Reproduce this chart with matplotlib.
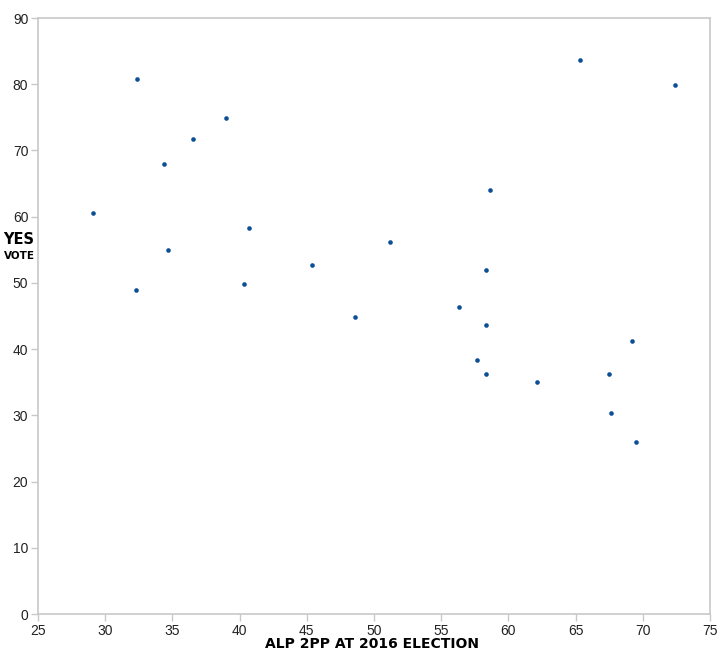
import matplotlib.pyplot as plt

alp_2pp = [29.1, 32.4, 32.3, 34.4, 34.7, 36.5, 39.0, 40.7, 40.3, 45.4,
           48.6, 51.2, 56.3, 58.6, 58.3, 58.3, 57.7, 58.3, 62.1, 65.3,
           69.2, 67.5, 67.6, 69.5, 72.4]
yes_vote = [60.6, 80.8, 49.0, 68.0, 55.0, 71.7, 74.9, 58.3, 49.8, 52.7,
            44.9, 56.2, 46.3, 64.1, 52.0, 43.6, 38.4, 36.2, 35.0, 83.6,
            41.3, 36.3, 30.4, 26.0, 79.9]

plt.rcParams["font.family"] = ["Liberation Sans", "DejaVu Sans"]

fig = plt.figure(figsize=(7.21, 6.5), dpi=100)
ax = fig.add_axes([38 / 721, 1 - 614 / 650, 672 / 721, 596 / 650])

ax.scatter(alp_2pp, yes_vote, s=11, color="#0b4f96", linewidths=0, zorder=3)

ax.set_xlim(25, 75)
ax.set_ylim(0, 90)
ax.set_xticks(range(25, 76, 5))
ax.set_yticks(range(0, 91, 10))

for side in ["left", "bottom", "top", "right"]:
    ax.spines[side].set_color("#c8c8c8")
    ax.spines[side].set_linewidth(1.2)
ax.tick_params(colors="#c8c8c8", labelcolor="#222222", length=5, width=1,
               labelsize=10, pad=2)

fig.text(372 / 721, 1 - 644 / 650, "ALP 2PP AT 2016 ELECTION",
         family="DejaVu Sans", fontweight="bold", fontsize=10,
         ha="center", va="center")
fig.text(19 / 721, 1 - 239 / 650, "YES", family="DejaVu Sans",
         fontweight="bold", fontsize=10.5, ha="center", va="center")
fig.text(19 / 721, 1 - 256 / 650, "VOTE", family="DejaVu Sans",
         fontweight="bold", fontsize=7.5, ha="center", va="center")

fig.savefig("out.png", dpi=100)
